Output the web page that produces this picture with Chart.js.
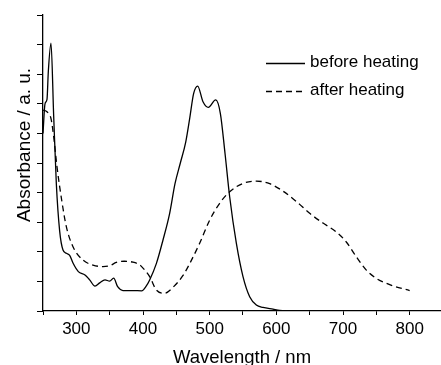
<!DOCTYPE html>
<html>
<head>
<meta charset="utf-8">
<script src="https://cdn.jsdelivr.net/npm/chart.js@4"></script>
<style>
  body { margin: 0; background: #fff; }
  canvas { display: block; }
</style>
</head>
<body>
<canvas id="myChart" width="441" height="365"></canvas>
<script>
// before heating (solid)
const wlBefore = [250, 253, 256, 258, 262, 266, 270, 275, 280, 285, 290, 295, 303, 313, 320, 328, 335, 343, 350, 356, 362, 370, 385, 398, 405, 410, 420, 430, 440, 448, 456, 464, 470, 476, 482, 490, 498, 509, 516, 523, 530, 540, 550, 560, 570, 580, 595, 605, 620];
const absBefore = [6.0, 7.0, 7.15, 8.1, 9.05, 6.6, 4.3, 2.7, 2.06, 1.95, 1.88, 1.62, 1.33, 1.22, 1.05, 0.84, 0.95, 1.05, 1.01, 1.11, 0.82, 0.69, 0.69, 0.68, 0.85, 1.05, 1.6, 2.4, 3.3, 4.3, 5.0, 5.7, 6.5, 7.35, 7.6, 7.07, 6.88, 7.13, 6.68, 5.33, 3.86, 2.29, 1.16, 0.48, 0.2, 0.12, 0.06, 0.02, 0];

// after heating (dashed)
const wlAfter = [250, 255, 258, 262, 266, 271, 278, 285, 295, 310, 325, 340, 350, 360, 372, 385, 395, 400, 410, 420, 432, 445, 460, 470, 485, 500, 515, 530, 550, 570, 590, 610, 630, 650, 670, 690, 705, 720, 735, 750, 770, 800];
const absAfter = [6.79, 6.75, 6.68, 6.5, 5.9, 4.87, 3.75, 2.85, 2.17, 1.72, 1.55, 1.5, 1.53, 1.64, 1.68, 1.65, 1.56, 1.45, 1.16, 0.71, 0.6, 0.8, 1.2, 1.6, 2.29, 3.07, 3.64, 4.03, 4.31, 4.39, 4.3, 4.05, 3.7, 3.3, 2.97, 2.67, 2.33, 1.83, 1.38, 1.1, 0.89, 0.69];

const seriesNames = ['before heating', 'after heating'];
const xTitle = 'Wavelength / nm';
const yTitle = 'Absorbance / a. u.';

const FONT = "'Liberation Sans', Arial, sans-serif";

function toPoints(xs, ys) {
    return xs.map((x, i) => ({ x: x, y: ys[i] }));
}

// y title and legend drawn on top, legend reads the dataset styles
const extras = {
    id: 'extras',
    afterDraw(chart) {
        const c = chart.ctx;
        c.save();
        c.fillStyle = '#000';

        // y axis title
        c.font = '19px ' + FONT;
        c.textAlign = 'center';
        c.textBaseline = 'alphabetic';
        c.translate(30, 145);
        c.rotate(-Math.PI / 2);
        c.fillText(yTitle, 0, 0);
        c.setTransform(1, 0, 0, 1, 0, 0);

        // legend
        const rows = [63.5, 91.5];
        c.font = '17px ' + FONT;
        c.textAlign = 'left';
        chart.data.datasets.forEach((ds, i) => {
            const y = rows[i];
            c.beginPath();
            c.lineWidth = ds.borderWidth;
            c.strokeStyle = ds.borderColor;
            c.setLineDash(ds.borderDash || []);
            c.moveTo(266, y);
            c.lineTo(305, y);
            c.stroke();
            c.setLineDash([]);
            c.fillText(ds.label, 310, y + 3.5);
        });
        c.restore();
    }
};

new Chart(document.getElementById('myChart'), {
    type: 'line',
    data: {
        datasets: [
            {
                label: seriesNames[0],
                data: toPoints(wlBefore, absBefore),
                borderColor: '#000',
                borderWidth: 1.3,
                pointRadius: 0,
                fill: false,
                cubicInterpolationMode: 'monotone'
            },
            {
                label: seriesNames[1],
                data: toPoints(wlAfter, absAfter),
                borderColor: '#000',
                borderWidth: 1.3,
                borderDash: [6, 4],
                pointRadius: 0,
                fill: false,
                cubicInterpolationMode: 'monotone'
            }
        ]
    },
    options: {
        responsive: false,
        animation: false,
        layout: { padding: { top: 15, right: 0, bottom: 0, left: 0 } },
        plugins: {
            legend: { display: false },
            tooltip: { enabled: false }
        },
        scales: {
            x: {
                type: 'linear',
                min: 250,
                max: 847,
                border: { color: '#000', width: 1.3 },
                grid: { drawOnChartArea: false, drawTicks: true, tickLength: 4, color: '#000', lineWidth: 1 },
                ticks: {
                    stepSize: 50,
                    includeBounds: false,
                    autoSkip: false,
                    maxRotation: 0,
                    padding: 4,
                    color: '#000',
                    font: { family: FONT, size: 17 },
                    callback: v => (v % 100 === 0 ? String(v) : '')
                },
                title: {
                    display: true,
                    text: xTitle,
                    color: '#000',
                    font: { family: FONT, size: 18.5, lineHeight: 1 },
                    padding: { top: 0, bottom: -2 }
                },
                afterFit: s => { s.height = 54; }
            },
            y: {
                min: 0,
                max: 10,
                border: { color: '#000', width: 1.3 },
                grid: { drawOnChartArea: false, drawTicks: true, tickLength: 6, color: '#000', lineWidth: 1 },
                ticks: { stepSize: 1, display: false },
                afterFit: s => { s.width = 43; }
            }
        }
    },
    plugins: [extras]
});
</script>
</body>
</html>
